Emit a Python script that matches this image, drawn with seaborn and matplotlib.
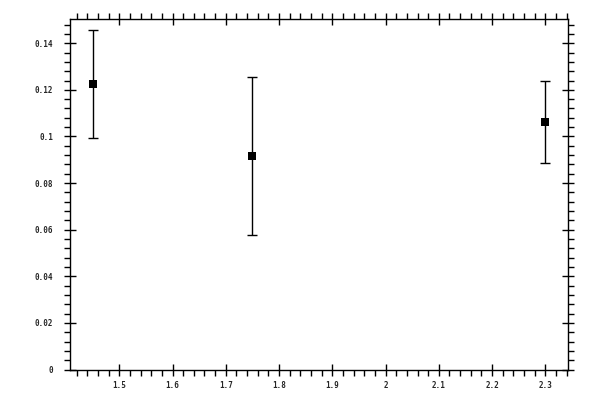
import matplotlib
matplotlib.use("Agg")
import matplotlib.pyplot as plt
import seaborn as sns
import pandas as pd
from matplotlib.ticker import MultipleLocator, FuncFormatter

x_vals = [1.45, 1.75, 2.30]
y_vals = [0.1225, 0.0915, 0.1061]
y_err = [0.0231, 0.0338, 0.0177]

df = pd.DataFrame({"x": x_vals, "y": y_vals, "err": y_err})

sns.set_theme(style="white")
plt.rcParams['font.family'] = ['DejaVu Sans Mono']

fig = plt.figure(figsize=(6, 4), dpi=100)
ax = fig.add_axes([70/600, 1-369.5/400, (568-70)/600, (369.5-19)/400])

ax.errorbar(df["x"], df["y"], yerr=df["err"], fmt="none", ecolor="black",
            elinewidth=1, capsize=3.5, capthick=1)
sns.scatterplot(data=df, x="x", y="y", marker="s", s=40, color="black",
                edgecolor="black", linewidth=0, ax=ax, zorder=3)

ax.set_xlim(1.4075, 2.3425)
ax.set_ylim(0, 0.1504)
ax.set_xlabel("")
ax.set_ylabel("")

ax.xaxis.set_major_locator(MultipleLocator(0.1))
ax.xaxis.set_minor_locator(MultipleLocator(0.02))
ax.yaxis.set_major_locator(MultipleLocator(0.02))
ax.yaxis.set_minor_locator(MultipleLocator(0.004))
fmt = FuncFormatter(lambda v, p: "%g" % round(v, 6))
ax.xaxis.set_major_formatter(fmt)
ax.yaxis.set_major_formatter(fmt)

for s in ax.spines.values():
    s.set_color("black")
    s.set_linewidth(1)

ax.tick_params(which="major", direction="inout", length=8, width=1, color="black",
               labelsize=5.5, top=True, right=True, bottom=True, left=True,
               labeltop=False, labelright=False)
ax.tick_params(axis="y", which="major", pad=8)
ax.tick_params(axis="x", which="major", pad=4)
ax.tick_params(which="minor", direction="out", length=4, width=1, color="black",
               top=True, right=True, bottom=True, left=True)
for lab in ax.get_xticklabels() + ax.get_yticklabels():
    lab.set_fontweight("bold")

fig.savefig("out.png", dpi=100)
